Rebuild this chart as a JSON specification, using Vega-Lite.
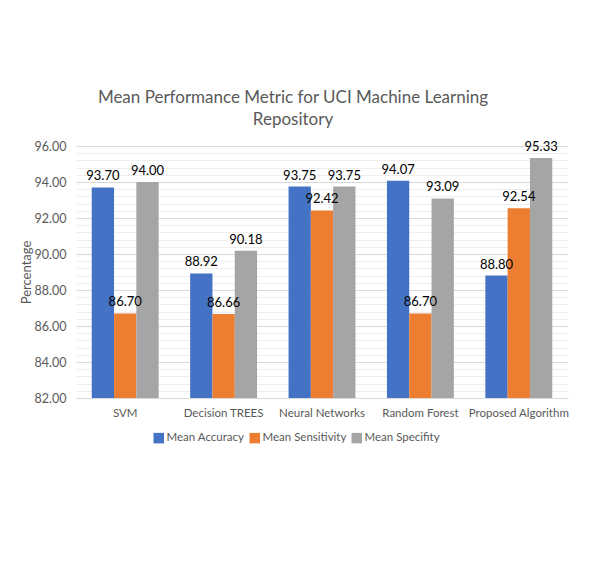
{
  "$schema": "https://vega.github.io/schema/vega-lite/v6.json",
  "description": "Mean performance metric for UCI Machine Learning Repository, grouped bars.",
  "autosize": {"type": "none"},
  "padding": {"left": 76, "top": 146, "right": 26, "bottom": 163},
  "width": 492,
  "height": 252,
  "background": "white",
  "title": {
    "text": ["Mean Performance Metric for UCI Machine Learning", "Repository"],
    "font": "Lato",
    "fontSize": 17,
    "fontWeight": "normal",
    "color": "#595959",
    "anchor": "middle",
    "dx": -29,
    "offset": 11,
    "lineHeight": 22
  },
  "data": {
    "values": [
      {"Algorithm": "SVM", "Metric": "Mean Accuracy", "Value": 93.70},
      {"Algorithm": "SVM", "Metric": "Mean Sensitivity", "Value": 86.70},
      {"Algorithm": "SVM", "Metric": "Mean Specifity", "Value": 94.00},
      {"Algorithm": "Decision TREES", "Metric": "Mean Accuracy", "Value": 88.92},
      {"Algorithm": "Decision TREES", "Metric": "Mean Sensitivity", "Value": 86.66},
      {"Algorithm": "Decision TREES", "Metric": "Mean Specifity", "Value": 90.18},
      {"Algorithm": "Neural Networks", "Metric": "Mean Accuracy", "Value": 93.75},
      {"Algorithm": "Neural Networks", "Metric": "Mean Sensitivity", "Value": 92.42},
      {"Algorithm": "Neural Networks", "Metric": "Mean Specifity", "Value": 93.75},
      {"Algorithm": "Random Forest", "Metric": "Mean Accuracy", "Value": 94.07},
      {"Algorithm": "Random Forest", "Metric": "Mean Sensitivity", "Value": 86.70},
      {"Algorithm": "Random Forest", "Metric": "Mean Specifity", "Value": 93.09},
      {"Algorithm": "Proposed Algorithm", "Metric": "Mean Accuracy", "Value": 88.80},
      {"Algorithm": "Proposed Algorithm", "Metric": "Mean Sensitivity", "Value": 92.54},
      {"Algorithm": "Proposed Algorithm", "Metric": "Mean Specifity", "Value": 95.33}
    ]
  },
  "encoding": {
    "x": {
      "field": "Algorithm",
      "type": "nominal",
      "sort": ["SVM", "Decision TREES", "Neural Networks", "Random Forest", "Proposed Algorithm"],
      "scale": {"paddingInner": 0.32, "paddingOuter": 0.16},
      "axis": {
        "title": null,
        "labelAngle": 0,
        "labelFont": "Lato",
        "labelFontSize": 11.5,
        "labelColor": "#595959",
        "labelPadding": 9,
        "ticks": false,
        "domainColor": "#d9d9d9",
        "grid": false
      }
    },
    "xOffset": {
      "field": "Metric",
      "type": "nominal",
      "sort": ["Mean Accuracy", "Mean Sensitivity", "Mean Specifity"],
      "scale": {"paddingInner": 0, "paddingOuter": 0}
    },
    "y": {
      "field": "Value",
      "type": "quantitative",
      "title": "Percentage",
      "scale": {"domain": [82, 96], "nice": false, "zero": false},
      "axis": {
        "values": [82, 82.4, 82.8, 83.2, 83.6, 84, 84.4, 84.8, 85.2, 85.6, 86, 86.4, 86.8, 87.2, 87.6, 88, 88.4, 88.8, 89.2, 89.6, 90, 90.4, 90.8, 91.2, 91.6, 92, 92.4, 92.8, 93.2, 93.6, 94, 94.4, 94.8, 95.2, 95.6, 96],
        "labelExpr": "abs(datum.value - round(datum.value / 2) * 2) < 0.01 ? format(datum.value, '.2f') : ''",
        "gridColor": {
          "condition": {"test": "abs(datum.value - round(datum.value / 2) * 2) < 0.01", "value": "#d9d9d9"},
          "value": "#eeeeee"
        },
        "labelFont": "Lato",
        "labelFontSize": 12.5,
        "labelColor": "#595959",
        "labelPadding": 10,
        "ticks": false,
        "domain": false,
        "titleFont": "Lato",
        "titleFontSize": 13,
        "titleFontWeight": "normal",
        "titleColor": "#595959",
        "titlePadding": 1
      }
    }
  },
  "layer": [
    {
      "mark": {"type": "bar"},
      "encoding": {
        "y2": {"datum": 82},
        "color": {
          "field": "Metric",
          "type": "nominal",
          "sort": ["Mean Accuracy", "Mean Sensitivity", "Mean Specifity"],
          "scale": {"range": ["#4472c4", "#ed7d31", "#a5a5a5"]},
          "legend": {
            "title": null,
            "orient": "none",
            "direction": "horizontal",
            "legendX": 77,
            "legendY": 286,
            "symbolType": "square",
            "symbolSize": 110,
            "symbolStrokeWidth": 0,
            "symbolOpacity": 1,
            "labelFont": "Lato",
            "labelFontSize": 11.5,
            "labelColor": "#595959",
            "labelOffset": 2,
            "columnPadding": 4
          }
        }
      }
    },
    {
      "mark": {
        "type": "text",
        "baseline": "bottom",
        "dy": -4,
        "font": "Lato",
        "fontSize": 13,
        "color": "#000000"
      },
      "encoding": {
        "text": {"field": "Value", "type": "quantitative", "format": ".2f"}
      }
    }
  ],
  "config": {
    "view": {"stroke": null}
  }
}
